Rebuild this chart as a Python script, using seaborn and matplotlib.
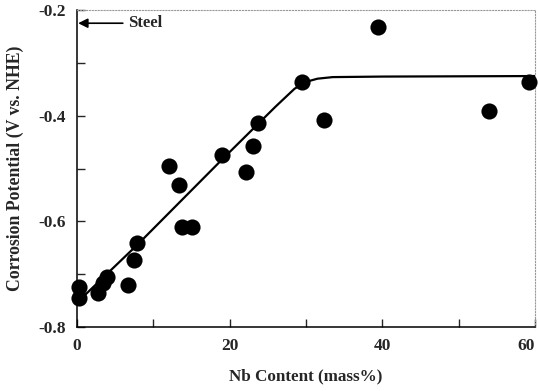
import numpy as np
import pandas as pd
import seaborn as sns
import matplotlib.pyplot as plt
from matplotlib.ticker import MultipleLocator

nb_content = [0.2, 0.2, 2.8, 3.4, 3.9, 6.7, 7.5, 7.9, 12.1, 13.3, 13.8, 15.1,
              19.0, 22.1, 23.0, 23.7, 29.5, 32.4, 39.4, 54.0, 59.2]
potential = [-0.725, -0.745, -0.736, -0.717, -0.706, -0.720, -0.673, -0.641,
             -0.495, -0.531, -0.611, -0.611, -0.475, -0.507, -0.457, -0.414,
             -0.336, -0.408, -0.232, -0.391, -0.336]

# hand-drawn trend line
trend_x = [1.0, 8.0, 19.0, 26.0, 28.5, 30.0, 31.5, 33.5, 40.0, 60.0]
trend_y = [-0.740, -0.643, -0.483, -0.383, -0.349, -0.336, -0.330, -0.327, -0.326, -0.325]


def main():
    df = pd.DataFrame({'Nb': nb_content, 'E': potential})
    trend = pd.DataFrame({'Nb': trend_x, 'E': trend_y})

    sns.set_style('ticks')
    plt.rcParams['font.family'] = ['Liberation Serif', 'DejaVu Serif']
    plt.rcParams['font.weight'] = 'bold'

    fig = plt.figure(figsize=(5.39, 3.91), dpi=100)
    ax = fig.add_axes([0.1429, 0.1637, 0.8497, 0.8107])

    sns.lineplot(data=trend, x='Nb', y='E', color='black', linewidth=1.6, ax=ax)
    sns.scatterplot(data=df, x='Nb', y='E', color='black', s=135,
                    edgecolor='black', linewidth=0, ax=ax, zorder=3, clip_on=False)

    ax.set_xlim(0, 60)
    ax.set_ylim(-0.8, -0.2)
    ax.xaxis.set_minor_locator(MultipleLocator(10))
    ax.yaxis.set_minor_locator(MultipleLocator(0.1))
    ax.set_xticks([0, 20, 40, 60], ['0', '20', '40', '60'])
    ax.set_yticks([-0.8, -0.6, -0.4, -0.2], ['-0.8', '-0.6', '-0.4', '-0.2'])
    ax.tick_params(which='both', direction='in', length=6, width=1, labelsize=12.5,
                   top=False, right=False, pad=8)
    for lab in ax.get_xticklabels() + ax.get_yticklabels():
        lab.set_fontweight('bold')
    ax.get_xticklabels()[-1].set_horizontalalignment('right')

    for side in ['top', 'right']:
        ax.spines[side].set_linestyle(':')
        ax.spines[side].set_color('#999999')
        ax.spines[side].set_linewidth(0.8)
    for side in ['left', 'bottom']:
        ax.spines[side].set_color('black')
        ax.spines[side].set_linewidth(1.1)

    ax.annotate('', xy=(0.15, -0.225), xytext=(6.0, -0.225),
                arrowprops=dict(arrowstyle='-|>', color='black', lw=1.2,
                                mutation_scale=14, shrinkA=0, shrinkB=0))
    ax.text(6.7, -0.225, 'Steel', fontsize=12, fontweight='bold', va='center')

    ax.set_xlabel('Nb Content (mass%)', fontsize=12.3, fontweight='bold', labelpad=10)
    ax.set_ylabel('Corrosion Potential (V vs. NHE)', fontsize=12.8, fontweight='bold',
                  labelpad=10)

    fig.savefig('out.png', dpi=100)
    plt.close(fig)


if __name__ == "__main__":
    main()
